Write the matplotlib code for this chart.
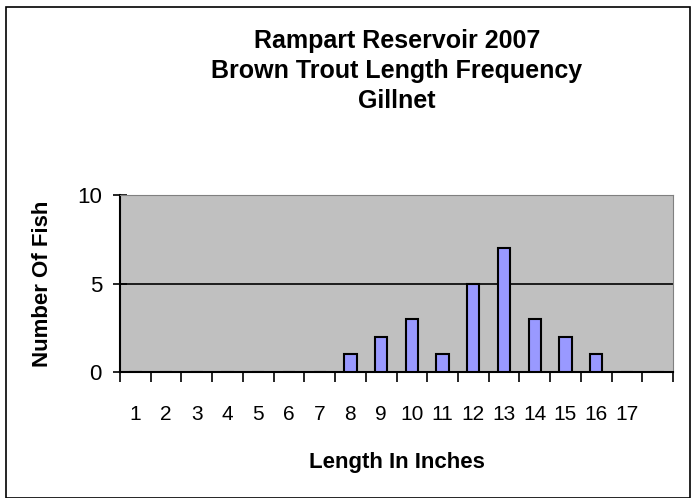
import matplotlib.pyplot as plt
from matplotlib.patches import Rectangle

# Length categories (18 slots, last one unlabeled)
lengths = ['1', '2', '3', '4', '5', '6', '7', '8', '9', '10', '11', '12',
           '13', '14', '15', '16', '17', '']
fish_counts = [0, 0, 0, 0, 0, 0, 0, 1, 2, 3, 1, 5, 7, 3, 2, 1, 0, 0]
y_ticks = [0, 5, 10]

plt.rcParams['font.family'] = ['Liberation Sans', 'DejaVu Sans']

fig = plt.figure(figsize=(6.95, 4.98), dpi=100)
ax = fig.add_axes([120 / 695, 1 - 372 / 498, (673 - 120) / 695, (372 - 195) / 498])

# Outer chart border
fig.patches.append(Rectangle((6 / 695, 0.5 / 498), 684 / 695, 490 / 498,
                             transform=fig.transFigure, fill=False,
                             edgecolor='black', linewidth=1.2))

x = list(range(len(lengths)))
ax.set_facecolor('#C0C0C0')
ax.bar(x, fish_counts, width=0.4, color='#9999FF', edgecolor='black',
       linewidth=1.5, zorder=3)

# Horizontal gridlines
ax.yaxis.grid(True, color='black', linewidth=1.2, zorder=1)
ax.set_axisbelow(True)

ax.set_xlim(-0.5, len(lengths) - 0.5)
ax.set_ylim(0, 10)
ax.set_yticks(y_ticks)

# x ticks between categories, labels at centers
ax.set_xticks([i - 0.5 for i in range(len(lengths) + 1)])
ax.set_xticklabels([])
ax.set_xticks(x, minor=True)
ax.set_xticklabels(lengths, minor=True, fontsize=15)
ax.tick_params(axis='x', which='major', direction='out', length=7, width=1.2)
ax.tick_params(axis='x', which='minor', length=0, pad=24)
ax.tick_params(axis='y', direction='inout', length=10, width=1.2, labelsize=16, pad=8)

for side in ['left', 'bottom']:
    ax.spines[side].set_linewidth(1.5)
for side in ['top', 'right']:
    ax.spines[side].set_linewidth(0.8)
    ax.spines[side].set_color('#808080')

ax.set_xlabel('Length In Inches', fontsize=16, fontweight='bold', labelpad=20)
ax.set_ylabel('Number Of Fish', fontsize=16, fontweight='bold', labelpad=17)

fig.text(397 / 695, 1 - 71 / 498,
         'Rampart Reservoir 2007\nBrown Trout Length Frequency\nGillnet',
         ha='center', va='center', fontsize=18, fontweight='bold',
         linespacing=1.3)

plt.savefig('out.png', dpi=100)
